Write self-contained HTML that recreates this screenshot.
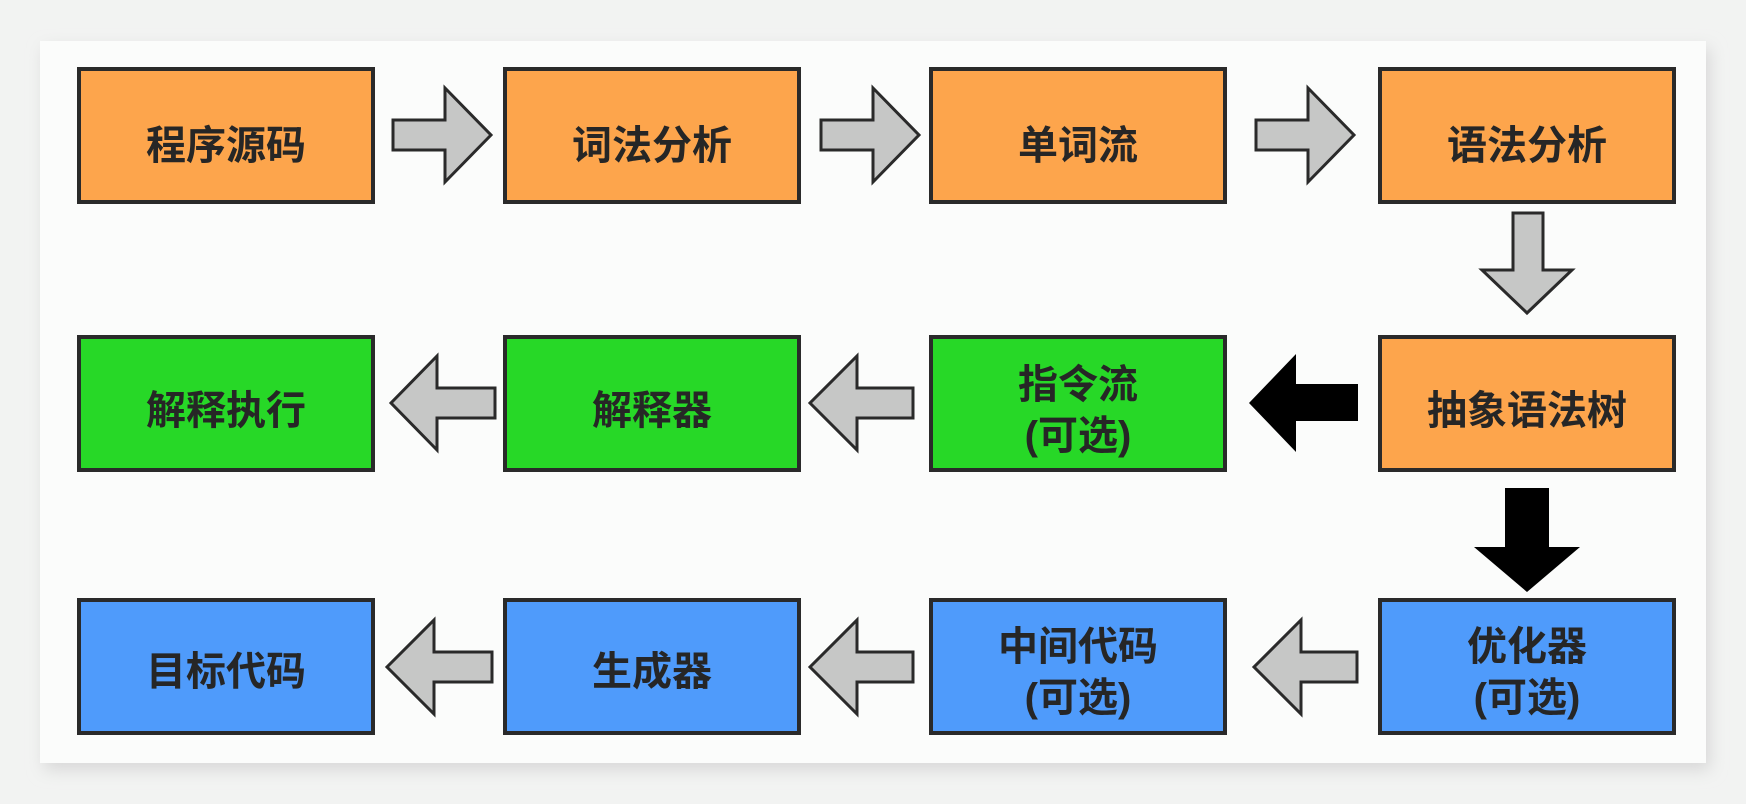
<!DOCTYPE html>
<html><head><meta charset="utf-8"><style>
html,body{margin:0;padding:0;width:1746px;height:804px;overflow:hidden;background:#f2f3f2}
svg{display:block}
text{font-family:"Liberation Sans","Noto Sans CJK SC",sans-serif;font-weight:bold;font-size:40px;fill:#262626;text-anchor:middle}
</style></head><body>
<svg width="1746" height="804" viewBox="0 0 1746 804">
<defs><filter id="sh" x="-5%" y="-5%" width="110%" height="115%"><feGaussianBlur stdDeviation="8"/></filter></defs>
<rect x="44" y="48" width="1666" height="722" fill="#d8d8d8" filter="url(#sh)"/>
<rect x="40" y="41" width="1666" height="722" fill="#fbfcfb"/>
<g stroke="#2a2a2a" stroke-width="4">
<rect x="79" y="69" width="294" height="133" fill="#fda54c"/>
<rect x="505" y="69" width="294" height="133" fill="#fda54c"/>
<rect x="931" y="69" width="294" height="133" fill="#fda54c"/>
<rect x="1380" y="69" width="294" height="133" fill="#fda54c"/>
<rect x="79" y="337" width="294" height="133" fill="#27d827"/>
<rect x="505" y="337" width="294" height="133" fill="#27d827"/>
<rect x="931" y="337" width="294" height="133" fill="#27d827"/>
<rect x="1380" y="337" width="294" height="133" fill="#fda54c"/>
<rect x="79" y="600" width="294" height="133" fill="#4f9bfb"/>
<rect x="505" y="600" width="294" height="133" fill="#4f9bfb"/>
<rect x="931" y="600" width="294" height="133" fill="#4f9bfb"/>
<rect x="1380" y="600" width="294" height="133" fill="#4f9bfb"/>
</g>
<g stroke="#2a2a2a" stroke-width="3" fill="#c6c7c6">
<polygon points="393,120 445,120 445,88 491,135 445,182 445,150 393,150"/>
<polygon points="821,120 873,120 873,88 919,135 873,182 873,150 821,150"/>
<polygon points="1256,120 1308,120 1308,88 1354,135 1308,182 1308,150 1256,150"/>
<polygon points="1513,213 1543,213 1543,270 1572,270 1527,313 1482,270 1513,270"/>
<polygon points="495,388 437,388 437,356 391,403 437,450 437,418 495,418"/>
<polygon points="913,388 857,388 857,356 810,403 857,450 857,418 913,418"/>
<polygon points="1357,652 1301,652 1301,620 1254,667 1301,714 1301,682 1357,682"/>
<polygon points="913,652 857,652 857,620 810,667 857,714 857,682 913,682"/>
<polygon points="492,652 434,652 434,620 387,667 434,714 434,682 492,682"/>
</g>
<g fill="#000">
<polygon points="1358,384 1296,384 1296,354 1249,403 1296,452 1296,421 1358,421"/>
<polygon points="1505,488 1549,488 1549,547 1580,547 1527,592 1474,547 1505,547"/>
</g>
<text x="226" y="159">程序源码</text>
<text x="652" y="159">词法分析</text>
<text x="1078" y="159">单词流</text>
<text x="1527" y="159">语法分析</text>
<text x="226" y="424">解释执行</text>
<text x="652" y="424">解释器</text>
<text x="1078" y="398">指令流</text>
<text x="1078" y="449">(可选)</text>
<text x="1527" y="424">抽象语法树</text>
<text x="226" y="685">目标代码</text>
<text x="652" y="685">生成器</text>
<text x="1078" y="660">中间代码</text>
<text x="1078" y="711">(可选)</text>
<text x="1527" y="660">优化器</text>
<text x="1527" y="711">(可选)</text>
</svg>
</body></html>
